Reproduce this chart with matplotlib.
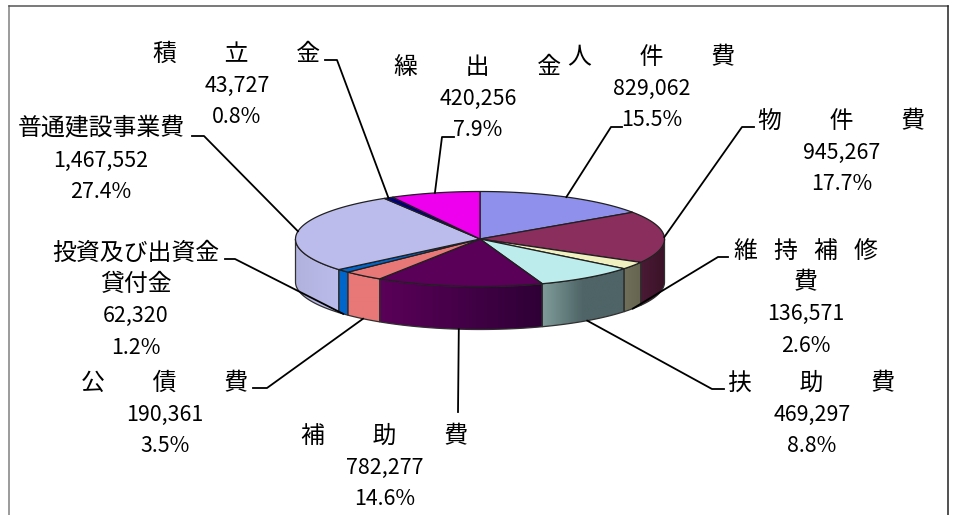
import numpy as np
import matplotlib
matplotlib.use("Agg")
import matplotlib.pyplot as plt
from matplotlib.colors import LinearSegmentedColormap
from matplotlib.patches import Polygon

# ---- data ----
names = ["人　　件　　費", "物　　件　　費", "維   持   補   修\n費", "扶　　助　　費", "補　　助　　費",
         "公　　債　　費", "投資及び出資金\n貸付金", "普通建設事業費", "積　　立　　金", "繰　　出　　金"]
amounts = [829062, 945267, 136571, 469297, 782277, 190361, 62320, 1467552, 43727, 420256]
percents = [15.5, 17.7, 2.6, 8.8, 14.6, 3.5, 1.2, 27.4, 0.8, 7.9]

# ---- style / layout ----
top_colors = ["#8f8fec", "#8a2e5e", "#f0f0c0", "#bcecec", "#5a0058",
              "#e87878", "#0066cc", "#bcbcec", "#000080", "#ee00ee"]
side_colors = [("#8f8fec", "#8f8fec"), ("#4a1a34", "#3a1228"), ("#70705a", "#666650"),
               ("#7f9c9a", "#4e6466", "#4e6466"), ("#5a0058", "#2e0036"), ("#e87878", "#e87878"),
               ("#0066cc", "#0066cc"), ("#b2b2de", "#bcbcec"), ("#000080", "#000080"),
               ("#ee00ee", "#ee00ee")]
CX, CY, RX, RY, DEPTH = 480, 239, 184.5, 47.5, 43

# centre x of the label block, y of its first line
label_pos = [(652, 57), (842, 121), (806, 251), (812, 383), (385, 436),
             (165, 383), (136, 253), (101, 129), (237, 54), (478, 67)]
# leader line: elbow point, end point
leader_pts = [((611, 127), (622, 127)), ((742, 127), (754, 127)), ((718, 257), (728, 257)),
              ((712, 389), (724, 389)), ((458, 412), (458, 412)), ((267, 388), (253, 388)),
              ((235, 259), (225, 259)), ((204, 136), (192, 136)), ((337, 60), (325, 60)),
              ((442, 137), (454, 137))]
LINE_H = 31.5

CJK = "Noto Sans CJK JP"

fig = plt.figure(figsize=(9.55, 5.15), dpi=100)
ax = fig.add_axes([0, 0, 1, 1])
ax.axis("off")


def rim(theta):
    return CX + RX * np.sin(theta), CY - RY * np.cos(theta)


fractions = np.array(amounts) / sum(amounts)
edges = 2 * np.pi * np.concatenate([[0], np.cumsum(fractions)])

# side walls (front half only)
for i in range(len(amounts)):
    t0, t1 = max(edges[i], np.pi / 2), min(edges[i + 1], 3 * np.pi / 2)
    if t1 <= t0:
        continue
    th = np.linspace(t0, t1, 80)
    x, y = rim(th)
    px = np.concatenate([x, x[::-1]])
    py = np.concatenate([y, y[::-1] + DEPTH])
    poly = Polygon(np.c_[px, py], closed=True, fc="none", ec="#303030", lw=0.9, zorder=3)
    ax.add_patch(poly)
    cmap = LinearSegmentedColormap.from_list("s", side_colors[i])
    left, right = px.min(), px.max()
    ramp = np.linspace(0, 1, 64)[None, :]
    im = ax.imshow(ramp, cmap=cmap, vmin=0, vmax=1, aspect="auto", zorder=2,
                   extent=(left, right, py.max(), py.min()))
    im.set_clip_path(Polygon(np.c_[px, py], closed=True, transform=ax.transData))

# top face
for i in range(len(amounts)):
    th = np.linspace(edges[i], edges[i + 1], 100)
    x, y = rim(th)
    ax.add_patch(Polygon(np.c_[np.r_[CX, x], np.r_[CY, y]], closed=True,
                         fc=top_colors[i], ec="#202020", lw=0.9, zorder=4))

# labels and leaders
mids = (edges[:-1] + edges[1:]) / 2
for i, name in enumerate(names):
    ax_x, ax_y = rim(mids[i])
    if np.cos(mids[i]) < 0:
        ax_y += DEPTH
    (ex, ey), (fx, fy) = leader_pts[i]
    ax.plot([ax_x, ex, fx], [ax_y, ey, fy], color="black", lw=1.3, zorder=6,
            solid_joinstyle="round")

    lx, ly = label_pos[i]
    for line in name.split("\n"):
        ax.text(lx, ly, line, family=CJK, fontsize=17.2, ha="center",
                va="center", color="black", zorder=7)
        ly += LINE_H
    ax.text(lx, ly, f"{amounts[i]:,}", family=CJK, fontsize=15.4, ha="center", va="center",
            color="black", zorder=7)
    ly += LINE_H
    ax.text(lx, ly, f"{percents[i]:.1f}%", family=CJK, fontsize=15.4, ha="center", va="center",
            color="black", zorder=7)

# chart frame (open at the bottom, cropped by the picture)
ax.plot([9, 9], [515, 6], color="#808080", lw=1.1, zorder=1)
ax.plot([9, 948], [6, 6], color="#555555", lw=1.1, zorder=1)
ax.plot([948, 948], [6, 515], color="#222222", lw=1.1, zorder=1)

ax.set_xlim(0, 955)
ax.set_ylim(515, 0)
fig.savefig("out.png", dpi=100, facecolor="white")
